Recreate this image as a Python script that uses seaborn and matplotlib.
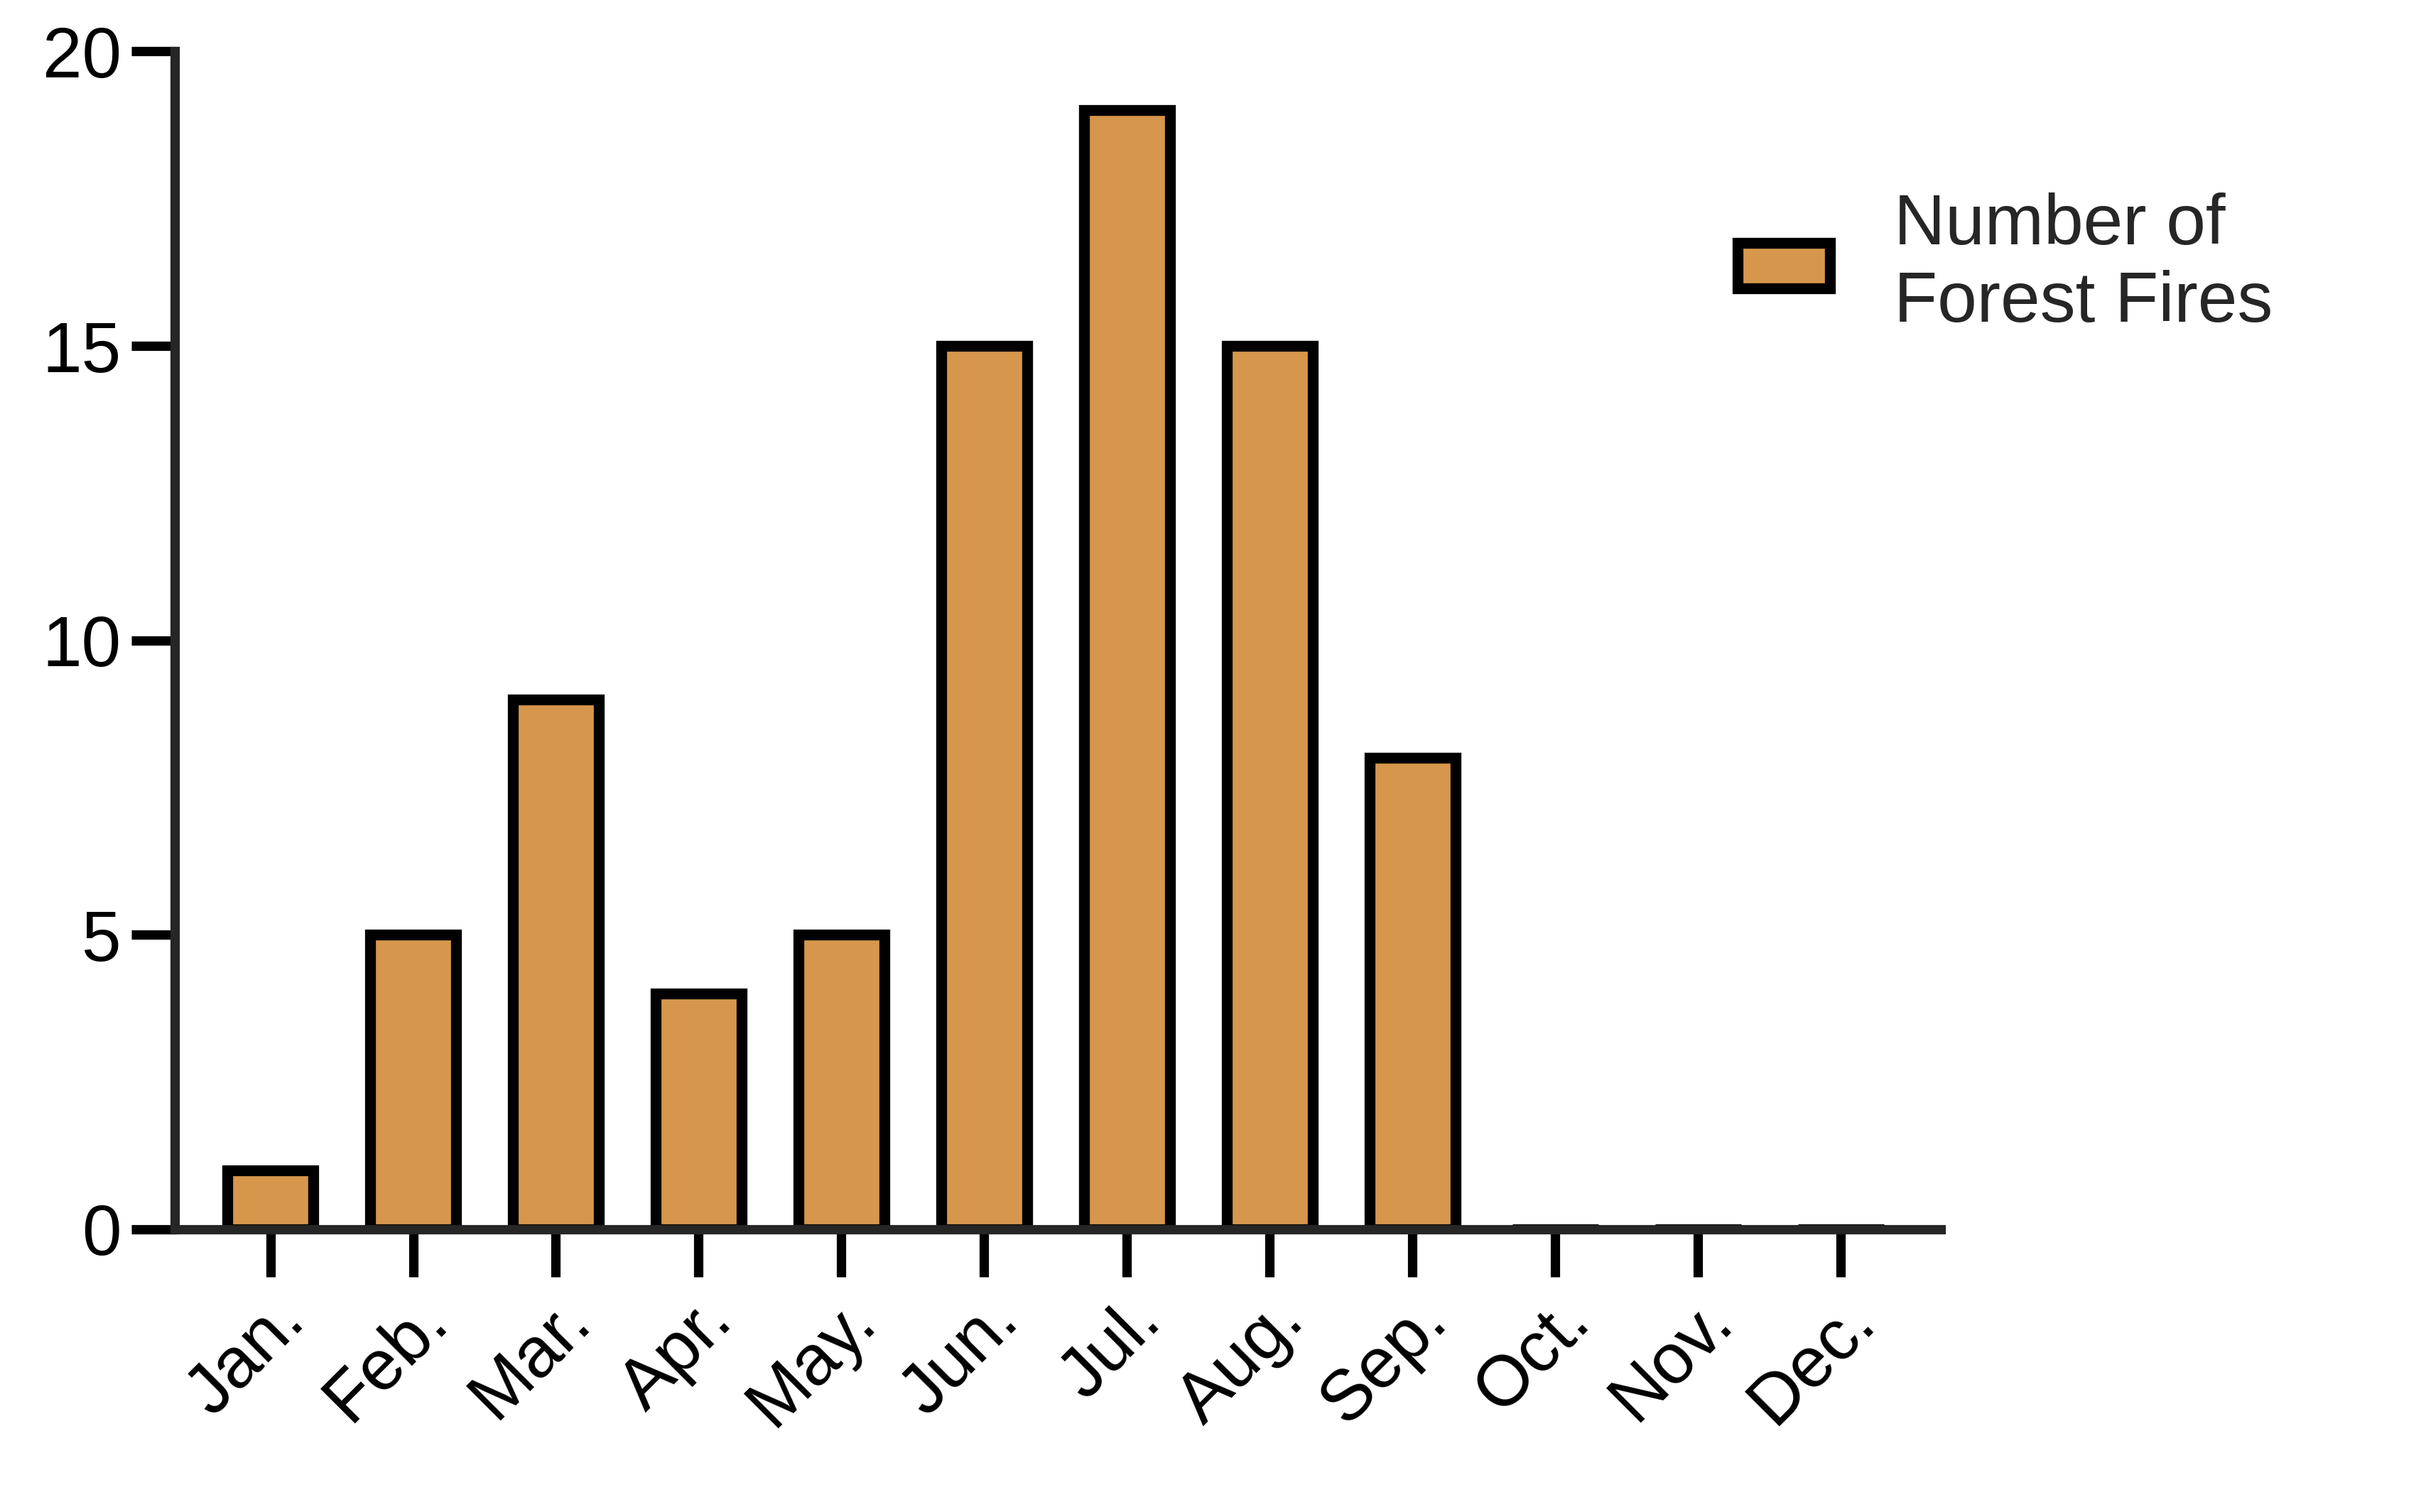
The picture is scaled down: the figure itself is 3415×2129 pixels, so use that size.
import matplotlib
matplotlib.use("Agg")
import matplotlib.pyplot as plt
import seaborn as sns
import pandas as pd
from matplotlib.patches import Patch

months = ["Jan.", "Feb.", "Mar.", "Apr.", "May.", "Jun.", "Jul.", "Aug.", "Sep.", "Oct.", "Nov.", "Dec."]
fires = [1, 5, 9, 4, 5, 15, 19, 15, 8, 0, 0, 0]
series_label = "Number of\nForest Fires"
bar_color = "#D6974C"

sns.set_theme(style="ticks")
plt.rcParams['font.family'] = ['Liberation Sans', 'DejaVu Sans']

df = pd.DataFrame({"month": months, "fires": fires})
fig = plt.figure(figsize=(34.15, 21.29), dpi=100)
ax = fig.add_axes([0.072, 0.187, 0.728, 0.779])
sns.barplot(data=df, x="month", y="fires", color=bar_color, edgecolor="black",
            linewidth=11, width=0.6, saturation=1, ax=ax)
ax.set_xlim(-0.67, 11.7)
ax.set_ylim(0, 20)
ax.set_yticks([0, 5, 10, 15, 20])
ax.set_xlabel("")
ax.set_ylabel("")
sns.despine(ax=ax)
for s in ["left", "bottom"]:
    ax.spines[s].set_linewidth(9.5)
    ax.spines[s].set_capstyle("projecting")
ax.tick_params(axis="both", width=9.5, length=48, labelsize=72, colors="black", pad=10)
ax.tick_params(axis="y", length=44)
for lab in ax.get_xticklabels():
    lab.set_rotation(45)
    lab.set_ha("right")
    lab.set_rotation_mode("anchor")
for b in ax.patches:
    b.set_joinstyle("miter")

handle = Patch(facecolor=bar_color, edgecolor="black", linewidth=11)
fig.legend([handle], [series_label], loc="center left", bbox_to_anchor=(0.69, 0.825),
           frameon=False, fontsize=72, handlelength=1.3, handleheight=0.6, handletextpad=0.9)
fig.savefig("out.png", dpi=100)
